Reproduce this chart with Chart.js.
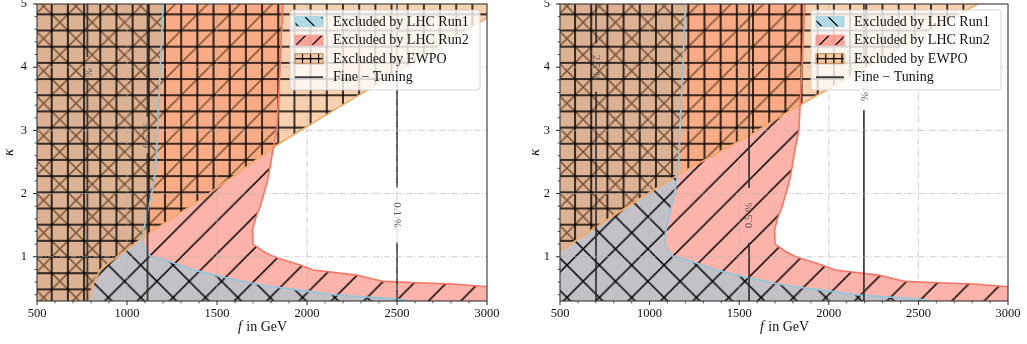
<!DOCTYPE html>
<html>
<head>
<meta charset="utf-8">
<script src="https://cdn.jsdelivr.net/npm/chart.js@4.4.1/dist/chart.umd.min.js"></script>
<style>
  html, body { margin: 0; padding: 0; background: #fff; overflow: hidden; }
  #wrap { position: relative; width: 1027px; height: 344px; }
  canvas { position: absolute; top: 0; }
  #cL { left: 0; }
  #cR { left: 514px; }
</style>
</head>
<body>
<div id="wrap">
  <canvas id="cL" width="513" height="344"></canvas>
  <canvas id="cR" width="513" height="344"></canvas>
</div>
<script>
const SERIF = '"Liberation Serif", "DejaVu Serif", serif';

// axes
const xTicks = [500, 1000, 1500, 2000, 2500, 3000];
const yTicks = [1, 2, 3, 4, 5];
const fMin = 500, fMax = 3000, kMin = 0.3, kMax = 5;

// LHC Run1 exclusion boundary (f [GeV], kappa), same curve in both panels
const run1F = [1200, 1185, 1170, 1160, 1145, 1110, 1090, 1088, 1100, 1130, 1260, 1360, 1530, 1690, 1800, 1990, 2150, 2350, 2500, 2570];
const run1K = [5.00, 4.00, 3.00, 2.40, 2.10, 1.65, 1.40, 1.22, 1.10, 1.01, 0.90, 0.80, 0.68, 0.585, 0.53, 0.46, 0.40, 0.36, 0.33, 0.30];

// LHC Run2 exclusion boundary
const run2F = [1865, 1850, 1833, 1808, 1796, 1778, 1740, 1712, 1697, 1700, 1760, 1800, 1850, 1961, 2035, 2276, 2424, 2609, 2813, 2980, 3000];
const run2K = [5.00, 4.00, 3.00, 2.65, 2.43, 2.17, 1.80, 1.59, 1.42, 1.20, 1.08, 1.02, 0.97, 0.87, 0.79, 0.71, 0.61, 0.59, 0.57, 0.53, 0.53];

// EWPO boundary, left and right panel
const ewpoLF = [780, 794, 813, 850, 933, 1111, 1406, 1850, 2128, 3000];
const ewpoLK = [0.30, 0.37, 0.58, 0.79, 0.98, 1.35, 1.90, 2.80, 3.28, 4.78];
const ewpoRF = [500, 835, 1170, 1579, 1728, 2805, 2830];
const ewpoRK = [1.09, 1.72, 2.32, 2.95, 3.22, 4.96, 5.00];

// fine tuning contours: f position, label, label gap (kappa from / to), label rotation
const ftLF = [780, 1114, 2500];
const ftLLabel = ['1 %', '0.5 %', '0.1 %'];
const ftLLo = [3.80, 2.64, 1.22];
const ftLHi = [4.16, 3.21, 2.10];
const ftLRot = [1, -1, 1];
const ftRF = [701, 1555, 2196];
const ftRLabel = ['2.5 %', '0.5 %', '0.25 %'];
const ftRLo = [3.61, 1.22, 3.32];
const ftRHi = [4.38, 2.09, 4.10];
const ftRRot = [1, -1, 1];

const legendLabels = ['Excluded by LHC Run1', 'Excluded by LHC Run2', 'Excluded by EWPO', 'Fine \u2212 Tuning'];

const xMinor = [];
for (let v = 600; v < 3000; v += 100) if (v % 500) xMinor.push(v);
const yMinor = [];
for (let i = 2; i < 25; i++) if (i % 5) yMinor.push(i / 5);

const pts = (f, k) => f.map((v, i) => ({ x: v, y: k[i] }));

// hatch pattern: translucent fill + black hatch, anchored to canvas grid
const CELL = 16.18;
function hatch(fill, kind, ox, oy, cell) {
  const T = 32;
  const c = document.createElement('canvas');
  c.width = c.height = T;
  const g = c.getContext('2d');
  g.fillStyle = fill;
  g.fillRect(0, 0, T, T);
  g.strokeStyle = '#000';
  g.lineWidth = cell < 10 ? 2.4 : 1.5;
  g.beginPath();
  if (kind === '+') {
    for (const p of [0, 16, 32]) {
      g.moveTo(p, 0); g.lineTo(p, T);
      g.moveTo(0, p); g.lineTo(T, p);
    }
  }
  if (kind === '/') {
    for (const s of [0, 32, 64]) { g.moveTo(s + 4, -4); g.lineTo(s - 36, 36); }
  }
  if (kind === '\\') {
    for (const s of [-16, 16]) { g.moveTo(s - 4, -4); g.lineTo(s + 36, 36); }
  }
  g.stroke();
  const p = g.createPattern(c, 'repeat');
  const k = 2 * (cell || CELL) / T;
  p.setTransform(new DOMMatrix([k, 0, 0, k, ox, oy]));
  return p;
}

const panels = [
  { canvas: 'cL', ewF: ewpoLF, ewK: ewpoLK, ftF: ftLF, ftLabel: ftLLabel, ftLo: ftLLo, ftHi: ftLHi, ftRot: ftLRot,
    ox: 3.16, oy: 14.3, yW: 37, padR: 26, yTitleX: 9 },
  { canvas: 'cR', ewF: ewpoRF, ewK: ewpoRK, ftF: ftRF, ftLabel: ftRLabel, ftLo: ftRLo, ftHi: ftRHi, ftRot: ftRRot,
    ox: 12.46, oy: 14.3, yW: 46, padR: 19, yTitleX: 21 }
];
const panelById = {};

function roundRect(ctx, x, y, w, h, r) {
  ctx.beginPath();
  ctx.moveTo(x + r, y);
  ctx.arcTo(x + w, y, x + w, y + h, r);
  ctx.arcTo(x + w, y + h, x, y + h, r);
  ctx.arcTo(x, y + h, x, y, r);
  ctx.arcTo(x, y, x + w, y, r);
  ctx.closePath();
}

const decor = {
  id: 'decor',
  afterDatasetsDraw(chart) {
    const cfg = panelById[chart.canvas.id];
    const { ctx, chartArea: a } = chart;
    const xs = chart.scales.x, ys = chart.scales.y;
    ctx.save();

    // dash-dot grid on top of the regions
    ctx.strokeStyle = 'rgba(180,180,180,0.75)';
    ctx.lineWidth = 0.9;
    ctx.setLineDash([6, 2, 1.2, 2]);
    ctx.beginPath();
    xTicks.forEach(v => {
      if (v > fMin && v < fMax) { const p = xs.getPixelForValue(v); ctx.moveTo(p, a.top); ctx.lineTo(p, a.bottom); }
    });
    yTicks.forEach(v => {
      if (v > kMin && v < kMax) { const p = ys.getPixelForValue(v); ctx.moveTo(a.left, p); ctx.lineTo(a.right, p); }
    });
    ctx.stroke();
    ctx.setLineDash([]);

    // fine tuning labels
    ctx.fillStyle = '#555';
    ctx.font = '11px ' + SERIF;
    ctx.textAlign = 'center';
    ctx.textBaseline = 'middle';
    cfg.ftF.forEach((f, i) => {
      const px = xs.getPixelForValue(f);
      const py = ys.getPixelForValue((cfg.ftLo[i] + cfg.ftHi[i]) / 2);
      ctx.save();
      ctx.translate(px, py);
      ctx.rotate(cfg.ftRot[i] * Math.PI / 2);
      ctx.fillText(cfg.ftLabel[i], 0, 0);
      ctx.restore();
    });

    // tick marks
    ctx.strokeStyle = '#222';
    ctx.beginPath();
    ctx.lineWidth = 1;
    xTicks.forEach(v => { const p = xs.getPixelForValue(v); ctx.moveTo(p, a.bottom); ctx.lineTo(p, a.bottom + 4); });
    yTicks.forEach(v => { const p = ys.getPixelForValue(v); ctx.moveTo(a.left, p); ctx.lineTo(a.left - 4, p); });
    ctx.stroke();
    ctx.beginPath();
    ctx.lineWidth = 0.8;
    xMinor.forEach(v => { const p = xs.getPixelForValue(v); ctx.moveTo(p, a.bottom); ctx.lineTo(p, a.bottom + 2.4); });
    yMinor.forEach(v => { const p = ys.getPixelForValue(v); ctx.moveTo(a.left, p); ctx.lineTo(a.left - 2.4, p); });
    ctx.stroke();

    // frame
    ctx.strokeStyle = '#333';
    ctx.lineWidth = 1.1;
    ctx.strokeRect(a.left, a.top, a.right - a.left, a.bottom - a.top);

    // legend
    const w = 190, h = 80, x0 = a.right - 7 - w, y0 = a.top + 6;
    roundRect(ctx, x0, y0, w, h, 3);
    ctx.fillStyle = 'rgba(255,255,255,0.8)';
    ctx.fill();
    ctx.strokeStyle = 'rgba(204,204,204,0.8)';
    ctx.lineWidth = 1;
    ctx.stroke();
    const lp = cfg.legendPat;
    const sw = [
      { pat: lp.run1, edge: '#a6d4e4' },
      { pat: lp.run2, edge: '#f79a8c' },
      { pat: lp.ewpo, edge: '#b9875a' },
      { line: 'rgba(45,45,45,0.9)' }
    ];
    legendLabels.forEach((txt, i) => {
      const cy = y0 + 11.7 + i * 18.5, px = x0 + 5;
      const s = sw[i];
      if (s.pat) {
        ctx.fillStyle = s.pat;
        ctx.fillRect(px, cy - 5, 28, 10);
        ctx.strokeStyle = s.edge;
        ctx.lineWidth = 1;
        ctx.strokeRect(px, cy - 5, 28, 10);
      } else {
        ctx.strokeStyle = s.line;
        ctx.lineWidth = 2;
        ctx.beginPath(); ctx.moveTo(px, cy); ctx.lineTo(px + 28, cy); ctx.stroke();
      }
      ctx.fillStyle = '#111';
      ctx.font = '14px ' + SERIF;
      ctx.textAlign = 'left';
      ctx.textBaseline = 'middle';
      ctx.fillText(txt, x0 + 43, cy + 0.5);
    });

    // axis titles
    ctx.fillStyle = '#111';
    ctx.save();
    ctx.translate(cfg.yTitleX, (a.top + a.bottom) / 2);
    ctx.rotate(-Math.PI / 2);
    ctx.textAlign = 'center';
    ctx.textBaseline = 'middle';
    ctx.font = 'italic 15px ' + SERIF;
    ctx.fillText('\u03ba', 0, 0);
    ctx.restore();

    ctx.textBaseline = 'alphabetic';
    ctx.textAlign = 'left';
    const fi = 'italic 14px ' + SERIF, fr = '14px ' + SERIF;
    ctx.font = fi; const w1 = ctx.measureText('f').width;
    ctx.font = fr; const w2 = ctx.measureText(' in GeV').width;
    const cx = (a.left + a.right) / 2 - (w1 + w2) / 2;
    ctx.font = fi; ctx.fillText('f', cx, 331);
    ctx.font = fr; ctx.fillText(' in GeV', cx + w1 + 1, 331);

    ctx.restore();
  }
};

function line(data, color, width, order) {
  return { data, borderColor: color, borderWidth: width, fill: false, showLine: true, pointRadius: 0, order };
}
function area(data, bg, order) {
  return { data, backgroundColor: bg, borderColor: 'rgba(0,0,0,0)', borderWidth: 0, fill: 'shape', showLine: true, pointRadius: 0, order };
}

panels.forEach(cfg => {
  panelById[cfg.canvas] = cfg;
  const pat = {
    run2: hatch('rgba(0,0,0,0)', '/', cfg.ox, cfg.oy),
    run1: hatch('rgba(0,0,0,0)', '\\', cfg.ox, cfg.oy),
    ewpo: hatch('rgba(244,164,96,0.5)', '+', cfg.ox, cfg.oy)
  };
  cfg.legendPat = {
    run1: hatch('rgba(173,216,230,0.95)', '\\', cfg.ox, cfg.oy, CELL / 2),
    run2: hatch('rgba(250,128,114,0.7)', '/', cfg.ox, cfg.oy, CELL / 2),
    ewpo: hatch('rgba(244,164,96,0.55)', '+', cfg.ox, cfg.oy + 4, CELL / 2)
  };

  const run2Poly = [{ x: fMin, y: kMin }, { x: fMin, y: kMax }, ...pts(run2F, run2K), { x: fMax, y: kMin }];
  const run1Poly = [{ x: fMin, y: kMin }, { x: fMin, y: kMax }, ...pts(run1F, run1K), { x: run1F[run1F.length - 1], y: kMin }];
  const ewpoPoly = [{ x: fMin, y: kMax }, { x: fMin, y: kMin }, ...pts(cfg.ewF, cfg.ewK), { x: fMax, y: kMax }];

  const ftSets = cfg.ftF.map((f, i) => line(
    [{ x: f, y: kMin }, { x: f, y: cfg.ftLo[i] }, { x: f, y: null }, { x: f, y: cfg.ftHi[i] }, { x: f, y: kMax }],
    'rgba(45,45,45,0.9)', 1.8, 1));

  new Chart(document.getElementById(cfg.canvas), {
    type: 'scatter',
    data: {
      datasets: [
        area(run2Poly, 'rgba(250,128,114,0.6)', 12),
        area(run1Poly, 'rgba(166,200,214,0.65)', 11),
        area(run2Poly, pat.run2, 10),
        area(run1Poly, pat.run1, 9),
        area(ewpoPoly, pat.ewpo, 8),
        line(pts(cfg.ewF, cfg.ewK), '#f3aa66', 1.6, 5),
        line(pts(run2F, run2K), '#fa7262', 1.6, 4),
        line(pts(run1F, run1K), '#8ec8e0', 1.6, 3),
        ...ftSets
      ]
    },
    options: {
      responsive: false,
      animation: false,
      events: [],
      layout: { padding: { top: 4, right: cfg.padR, left: 0, bottom: 0 } },
      plugins: { legend: { display: false }, tooltip: { enabled: false } },
      scales: {
        x: {
          type: 'linear', min: fMin, max: fMax,
          afterBuildTicks: s => { s.ticks = xTicks.map(v => ({ value: v })); },
          afterFit: s => { s.height = 43; s.paddingLeft = 0; s.paddingRight = 0; },
          grid: { display: false, drawTicks: false },
          border: { display: false },
          ticks: { font: { family: SERIF, size: 12.5 }, color: '#111', padding: 5, maxRotation: 0, autoSkip: false, callback: v => String(v) }
        },
        y: {
          type: 'linear', min: kMin, max: kMax,
          afterBuildTicks: s => { s.ticks = yTicks.map(v => ({ value: v })); },
          afterFit: s => { s.width = cfg.yW; s.paddingTop = 0; s.paddingBottom = 0; },
          grid: { display: false, drawTicks: false },
          border: { display: false },
          ticks: { font: { family: SERIF, size: 12.5 }, color: '#111', padding: 10, autoSkip: false, callback: v => String(v) }
        }
      }
    },
    plugins: [decor]
  });
});
</script>
</body>
</html>
